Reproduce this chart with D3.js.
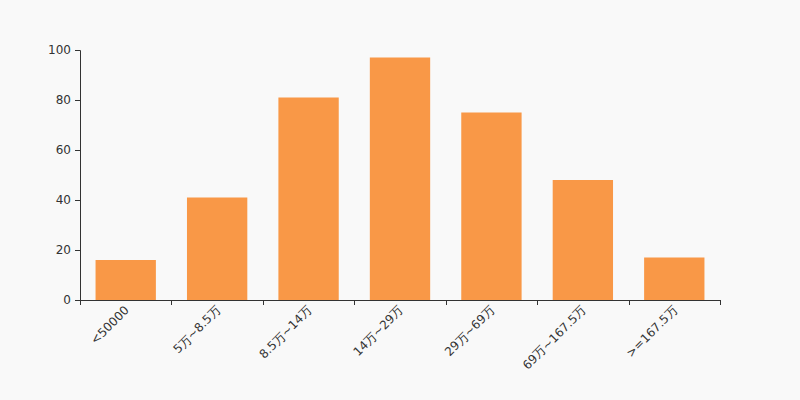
<!DOCTYPE html>
<html><head><meta charset="utf-8">
<script src="https://cdn.jsdelivr.net/npm/d3@7"></script>
<style>body{margin:0;background:#f9f9f9;}svg{display:block;}</style>
</head><body>
<svg id="c" width="800" height="400"></svg>
<script>
const categories = ["<50000","5万~8.5万","8.5万~14万","14万~29万","29万~69万","69万~167.5万",">=167.5万"];
const values = [16,41,81,97,75,48,17];
const yTicks = [0,20,40,60,80,100];

const svg = d3.select("#c");
svg.append("rect").attr("width",800).attr("height",400).attr("fill","#f9f9f9");
const m = {l:80, r:720, t:50, b:300};
const x = d3.scaleBand().domain(categories).range([m.l,m.r]).paddingInner(0.34).paddingOuter(0.17);
const xb = d3.scaleBand().domain(categories).range([m.l,m.r]);
const y = d3.scaleLinear().domain([0,100]).range([m.b,m.t]);
const font = "DejaVu Sans, sans-serif";

svg.append("g").selectAll("rect").data(values).join("rect")
  .attr("x",(d,i)=>x(categories[i])).attr("width",x.bandwidth())
  .attr("y",d=>y(d)).attr("height",d=>m.b-y(d)).attr("fill","#f99847");

// y axis
const ya = svg.append("g").attr("transform",`translate(${m.l},0)`)
  .call(d3.axisLeft(y).tickValues(yTicks).tickSize(5).tickPadding(4));
ya.selectAll("path,line").attr("stroke","#333");
ya.selectAll("text").attr("fill","#333").style("font-family",font).style("font-size","12px");

// x axis
const xa = svg.append("g").attr("transform",`translate(0,${m.b})`);
xa.append("line").attr("x1",m.l).attr("x2",m.r).attr("y1",0.5).attr("y2",0.5).attr("stroke","#333");
const bounds = categories.map(c=>xb(c)).concat([m.r]);
xa.selectAll("line.t").data(bounds).join("line").attr("class","t")
  .attr("x1",d=>Math.round(d)+0.5).attr("x2",d=>Math.round(d)+0.5).attr("y1",0).attr("y2",5).attr("stroke","#333");
xa.selectAll("text").data(categories).join("text")
  .attr("transform",c=>`translate(${xb(c)+xb.bandwidth()/2+1},${8}) rotate(-45)`)
  .attr("text-anchor","end").attr("dy","0.35em")
  .attr("fill","#333").style("font-family",font).style("font-size","12px")
  .text(d=>d);
</script>
</body></html>
